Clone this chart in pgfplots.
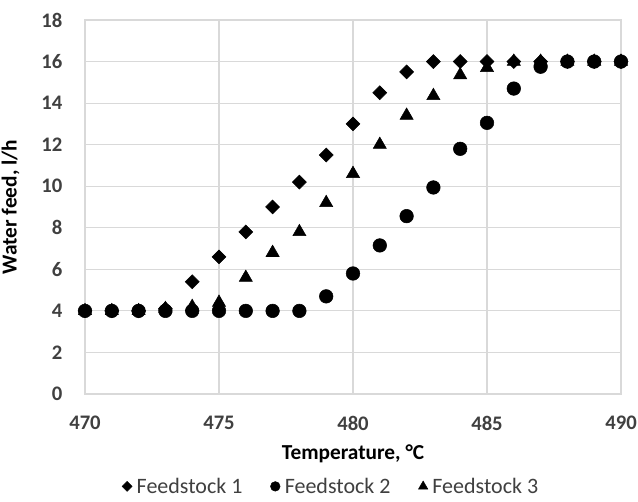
\documentclass[border=0pt]{standalone}
\usepackage{pgfplots}
\pgfplotsset{compat=1.18}
\usepackage{fontspec}
\setmainfont{Carlito}
\definecolor{gridc}{HTML}{D9D9D9}
\definecolor{txt}{HTML}{404040}

\begin{document}
\begin{tikzpicture}
\begin{axis}[
    name=ax,
    scale only axis,
    width=402pt, height=280.5pt,
    xmin=470, xmax=490, ymin=0, ymax=18,
    xtick={470,475,...,490}, ytick={0,2,...,18},
    grid=major, grid style={gridc, line width=0.8pt},
    axis line style={gridc, line width=0.8pt},
    major tick length=0pt,
    /pgf/number format/assume math mode=true,
    /pgf/number format/1000 sep={},
    tick label style={font=\fontsize{15.5}{17}\selectfont\bfseries, text=txt},
    xticklabel style={yshift=-13pt},
    yticklabel style={xshift=-13.5pt},
    xlabel={Temperature, °C},
    ylabel={Water feed, l/h},
    label style={font=\fontsize{16}{18}\selectfont\bfseries, text=black},
    xlabel style={yshift=-4pt},
    ylabel style={at={(axis description cs:-0.139,0.5)}, anchor=center},
    legend columns=3,
    legend style={
        at={(0.46,-0.247)}, anchor=center, draw=none, inner sep=0pt,
        font=\fontsize{16.5}{18}\selectfont, text=txt,
        /tikz/every odd column/.append style={column sep=1.5pt},
        /tikz/every even column/.append style={column sep=19pt},
    },
    legend cell align=left,
    clip=false,
]
\addplot[only marks, mark=square*, mark size=3.7pt, mark options={rotate=45, fill=black},
    legend image post style={mark size=2.6pt}] coordinates {
    (470,4) (471,4) (472,4) (473,4.1) (474,5.4) (475,6.6) (476,7.8) (477,9.0)
    (478,10.2) (479,11.5) (480,13.0) (481,14.5) (482,15.5) (483,16.0)
    (484,16.0) (485,16.0) (486,16.0) (487,16.0) (488,16.0) (489,16.0) (490,16.0)
};
\addlegendentry{Feedstock 1}
\addplot[only marks, mark=*, mark size=5.1pt, mark options={fill=black},
    legend image post style={mark size=3.6pt}] coordinates {
    (470,4) (471,4) (472,4) (473,4) (474,4) (475,4) (476,4) (477,4)
    (478,4) (479,4.7) (480,5.8) (481,7.15) (482,8.56) (483,9.94)
    (484,11.8) (485,13.05) (486,14.7) (487,15.75) (488,16.0) (489,16.0) (490,16.0)
};
\addlegendentry{Feedstock 2}
\addplot[only marks, mark=triangle*, mark size=5.7pt, mark options={fill=black},
    legend image post style={mark size=4pt}] coordinates {
    (470,4) (471,4) (472,4) (473,4.1) (474,4.2) (475,4.4) (476,5.6) (477,6.8)
    (478,7.8) (479,9.2) (480,10.6) (481,12.0) (482,13.4) (483,14.35)
    (484,15.35) (485,15.7) (486,16.0) (487,16.0) (488,16.0) (489,16.0) (490,16.0)
};
\addlegendentry{Feedstock 3}
\end{axis}
\pgfresetboundingbox
\path ([xshift=-63.75pt, yshift=-81pt]ax.south west) rectangle ([xshift=12.75pt, yshift=15pt]ax.north east);
\end{tikzpicture}
\end{document}
